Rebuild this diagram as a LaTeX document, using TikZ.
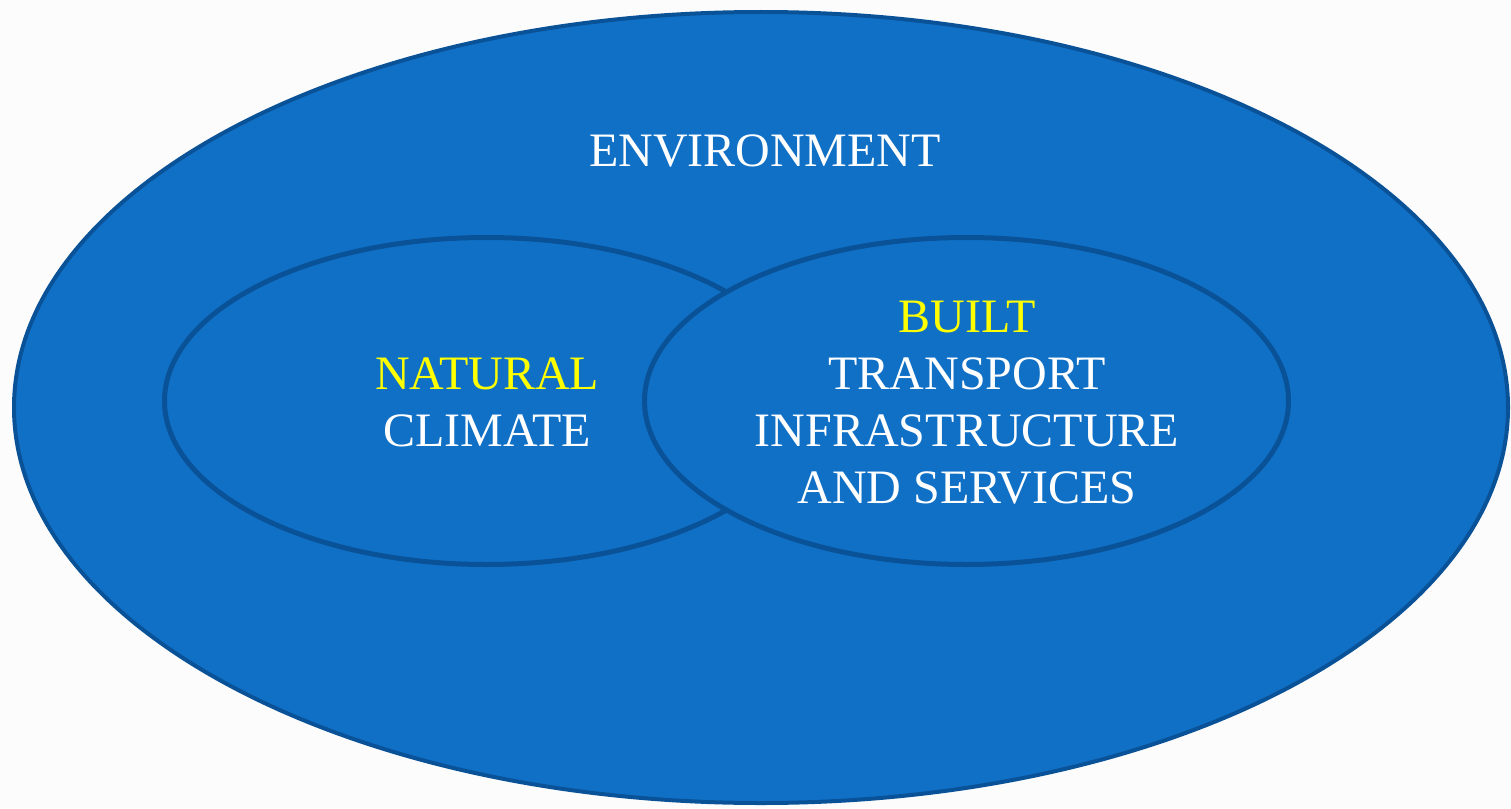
\documentclass[tikz,border=0pt]{standalone}
\usepackage{fontspec}
\setmainfont{Liberation Serif}
\definecolor{bluefill}{RGB}{16,112,198}
\definecolor{blueedge}{RGB}{10,82,152}
\definecolor{bgcol}{RGB}{252,252,252}
\definecolor{txtyellow}{RGB}{255,255,0}
\tikzset{
  blob/.style={fill=bluefill, draw=blueedge},
  lbl/.style={anchor=base, inner sep=0pt, text=white, font=\fontsize{48}{57}\selectfont},
  hl/.style={lbl, text=txtyellow}
}
\begin{document}
\begin{tikzpicture}[x=1pt,y=-1pt]
\fill[bgcol] (0,0) rectangle (1511,808);
\useasboundingbox (0,0) rectangle (1511,808);
\draw[blob, line width=4pt] (761,407.5) ellipse [x radius=747, y radius=395.5];
\draw[blob, line width=5pt] (486.5,401) ellipse [x radius=322, y radius=163.5];
\draw[blob, line width=5pt] (966.5,401) ellipse [x radius=322, y radius=163.5];
\node[lbl] (env) at (765,166) {ENVIRONMENT};
\node[hl] (nat) at (487,389) {NATURAL};
\node[lbl] (clim) at (487,446) {CLIMATE};
\node[hl] (built) at (967,332) {BUILT};
\node[lbl] (trans) at (967,389) {TRANSPORT};
\node[lbl] (infra) at (967,446) {INFRASTRUCTURE};
\node[lbl] (serv) at (967,503) {AND SERVICES};
\end{tikzpicture}
\end{document}
